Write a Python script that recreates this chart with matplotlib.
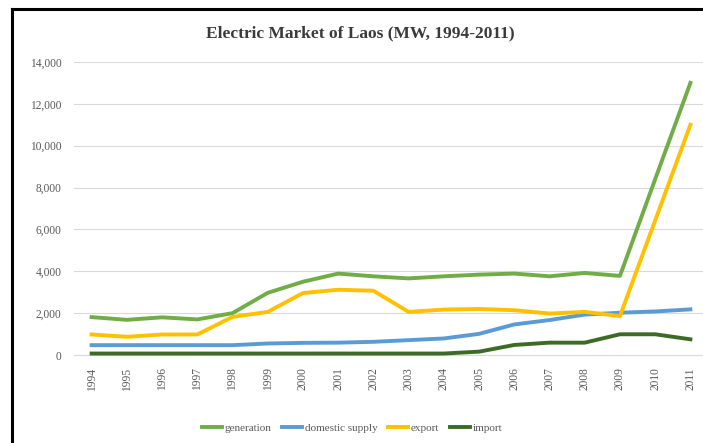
import matplotlib.pyplot as plt
from matplotlib.lines import Line2D
from matplotlib.ticker import FuncFormatter

years = [str(y) for y in range(1994, 2012)]
generation = [1810, 1680, 1800, 1700, 2000, 2970, 3500, 3890, 3760, 3660, 3760, 3840, 3890, 3760, 3920, 3780, 8400, 13000]
domestic_supply = [470, 470, 470, 470, 470, 550, 580, 590, 630, 710, 790, 1010, 1460, 1670, 1930, 2020, 2080, 2180]
export = [980, 870, 980, 980, 1820, 2060, 2960, 3120, 3070, 2060, 2170, 2200, 2140, 1980, 2060, 1860, 6430, 11000]
imports = [70, 70, 70, 70, 70, 70, 70, 70, 70, 70, 70, 160, 480, 590, 590, 990, 990, 750]

series = [
    ('generation', generation, '#70ad47'),
    ('domestic supply', domestic_supply, '#5b9bd5'),
    ('export', export, '#ffc000'),
    ('import', imports, '#3d6b26'),
]

serif = ['Liberation Serif', 'DejaVu Serif']
plt.rcParams['font.family'] = serif

fig = plt.figure(figsize=(7.03, 4.43), dpi=100)
ax = fig.add_axes([74/703, 1-355/443, (708-74)/703, (355-62)/443])

x = list(range(len(years)))
for name, vals, col in series:
    ax.plot(x, vals, color=col, lw=2.8, label=name, solid_joinstyle='round', clip_on=False, zorder=3)

ax.set_xlim(-0.5, len(years)-0.5)
ax.set_ylim(0, 14000)
ax.set_yticks(range(0, 14001, 2000))
ax.yaxis.set_major_formatter(FuncFormatter(lambda v, p: f'{int(v):,}'))
ax.set_xticks(x)
ax.set_xticklabels(years, rotation=90)
ax.tick_params(axis='both', length=0, labelsize=8.3, labelcolor='#595959')
ax.tick_params(axis='x', pad=9)
ax.tick_params(axis='y', pad=9)
ax.grid(axis='y', color='#d9d9d9', lw=0.8)
ax.set_axisbelow(True)
for s in ['top', 'right', 'left']:
    ax.spines[s].set_visible(False)
ax.spines['bottom'].set_color('#d9d9d9')

fig.text(0.513, 1-33/443, 'Electric Market of Laos (MW, 1994-2011)', ha='center', va='center',
         fontsize=12.5, fontweight='bold', color='#3a3a3a')

handles = [Line2D([], [], color=c, lw=2.8) for _, _, c in series]
fig.legend(handles, [n for n, _, _ in series], loc='center', bbox_to_anchor=(352/703, 1-428/443),
           ncol=4, frameon=False, fontsize=8, handlelength=1.8, handletextpad=0.2, columnspacing=1.0,
           labelcolor='#595959')

# outer frame (only left and top edges are visible in the image)
fig.add_artist(Line2D([12/703, 12/703], [0, 1-9/443], color='black', lw=2.2, transform=fig.transFigure))
fig.add_artist(Line2D([12/703, 1], [1-9/443, 1-9/443], color='black', lw=2.2, transform=fig.transFigure))

fig.savefig('out.png', dpi=100)
